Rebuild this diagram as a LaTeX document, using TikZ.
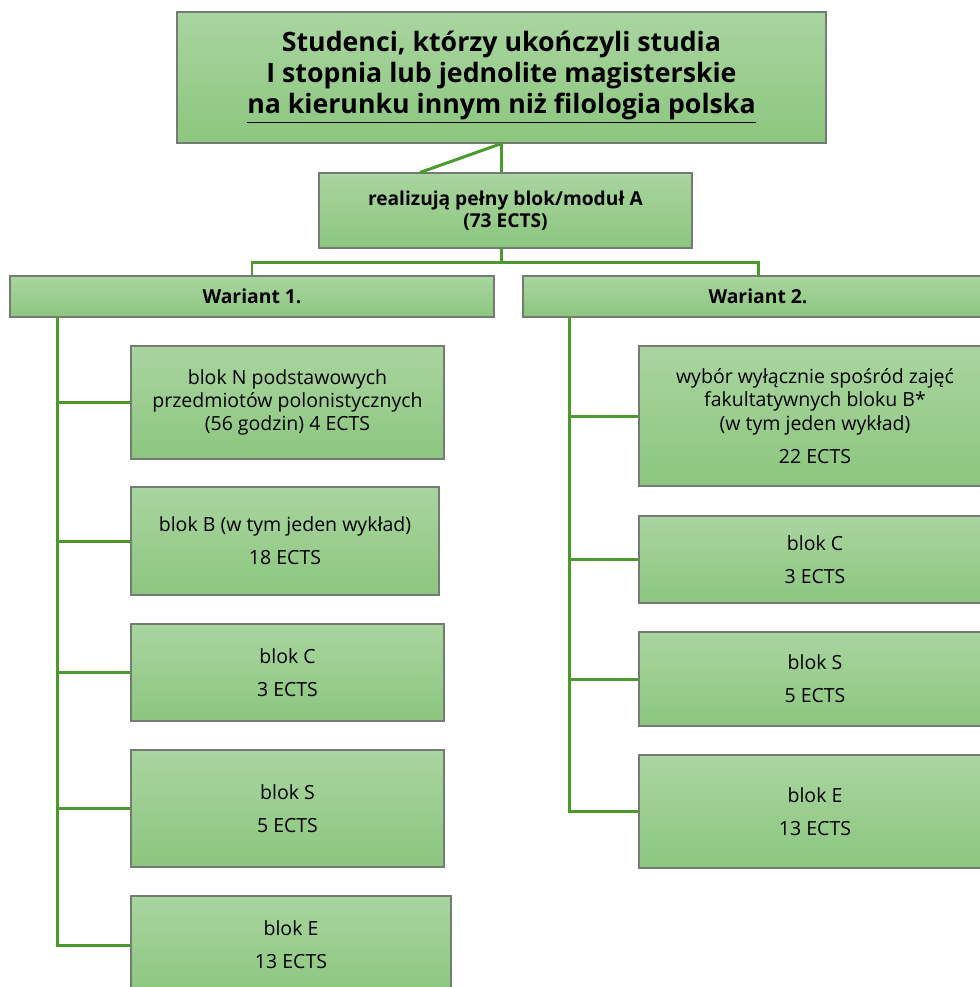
\documentclass[tikz,border=0pt]{standalone}
\usepackage{fontspec}
\setmainfont{Open Sans}
\definecolor{boxtop}{HTML}{A9D5A0}
\definecolor{boxbot}{HTML}{8CC67E}
\definecolor{boxgray}{HTML}{737B73}
\definecolor{linkgreen}{HTML}{4A9A2E}
\tikzstyle{block}=[draw=boxgray, line width=0.6pt, top color=boxtop, bottom color=boxbot,
    align=center, inner sep=0pt, font=\fontsize{11.1}{13.3}\selectfont]
\tikzstyle{leftblock} = [block, minimum width=6.26cm]
\tikzstyle{rightblock} = [block, minimum width=7.04cm]
\tikzstyle{variant} = [block, minimum height=0.82cm, font=\bfseries\fontsize{11}{14}\selectfont]
\tikzstyle{link} = [draw=linkgreen, line width=1.7pt]
\def\gap{5.5pt}

\begin{document}
\begin{tikzpicture}
	\clip (0,0) rectangle (19.6,-19.74);
	% Define the nodes in the picture
	\node (studenci) [block, minimum width=12.98cm, minimum height=2.62cm,
	    font=\bfseries\fontsize{15.2}{17.6}\selectfont] at (10.03,-1.55)
	    {Studenci, którzy ukończyli studia\\I stopnia lub jednolite magisterskie\\\underline{na kierunku innym niż filologia polska}};
	\node (modulA) [block, below of=studenci, node distance=2.66cm, xshift=0.08cm,
	    minimum width=7.46cm, minimum height=1.5cm, font=\bfseries\fontsize{10.9}{12.5}\selectfont]
	    {realizują pełny blok/moduł A\\(73 ECTS)};
	\node (war1) [variant, minimum width=9.68cm] at (5.04,-5.93) {Wariant 1.};
	\node (war2) [variant, minimum width=9.4cm] at (15.16,-5.93) {Wariant 2.};

	\node (lN) [leftblock, minimum height=2.26cm] at (5.75,-8.05)
	    {blok N podstawowych\\przedmiotów polonistycznych\\(56 godzin) 4 ECTS};
	\node (lB) [leftblock, below of=lN, node distance=2.77cm, xshift=-0.05cm,
	    minimum width=6.16cm, minimum height=2.16cm] {blok B (w tym jeden wykład)\\[\gap]18 ECTS};
	\node (lC) [leftblock, below of=lN, node distance=5.4cm, minimum height=1.94cm] {blok C\\[\gap]3 ECTS};
	\node (lS) [leftblock, below of=lN, node distance=8.12cm, minimum height=2.34cm] {blok S\\[\gap]5 ECTS};
	\node (lE) [leftblock, below of=lN, node distance=10.85cm, xshift=0.07cm,
	    minimum width=6.4cm, minimum height=1.96cm] {blok E\\[\gap]13 ECTS};

	\node (rB) [rightblock, minimum height=2.8cm] at (16.3,-8.32)
	    {wybór wyłącznie spośród zajęć\\fakultatywnych bloku B*\\(w tym jeden wykład)\\[\gap]22 ECTS};
	\node (rC) [rightblock, below of=rB, node distance=2.87cm, minimum height=1.74cm] {blok C\\[\gap]3 ECTS};
	\node (rS) [rightblock, below of=rB, node distance=5.26cm, minimum height=1.88cm] {blok S\\[\gap]5 ECTS};
	\node (rE) [rightblock, below of=rB, node distance=7.91cm, minimum height=2.26cm] {blok E\\[\gap]13 ECTS};

	% Define the edges in the picture
	\draw [link] (studenci.south) -- (studenci.south |- modulA.north);
	\draw [link] (studenci.south) -- ([xshift=-1.71cm]modulA.north);
	\draw [link] (studenci.south |- modulA.south) -- ++(0,-0.28) -| (war1.north);
	\draw [link] (studenci.south |- modulA.south) -- ++(0,-0.28) -| (war2.north);

	\foreach \b in {lN,lB,lC,lS,lE}
	    \draw [link] ([xshift=0.96cm]war1.south west) |- (\b.west);
	\foreach \b in {rB,rC,rS,rE}
	    \draw [link] ([xshift=0.94cm]war2.south west) |- (\b.west);
\end{tikzpicture}
\end{document}
